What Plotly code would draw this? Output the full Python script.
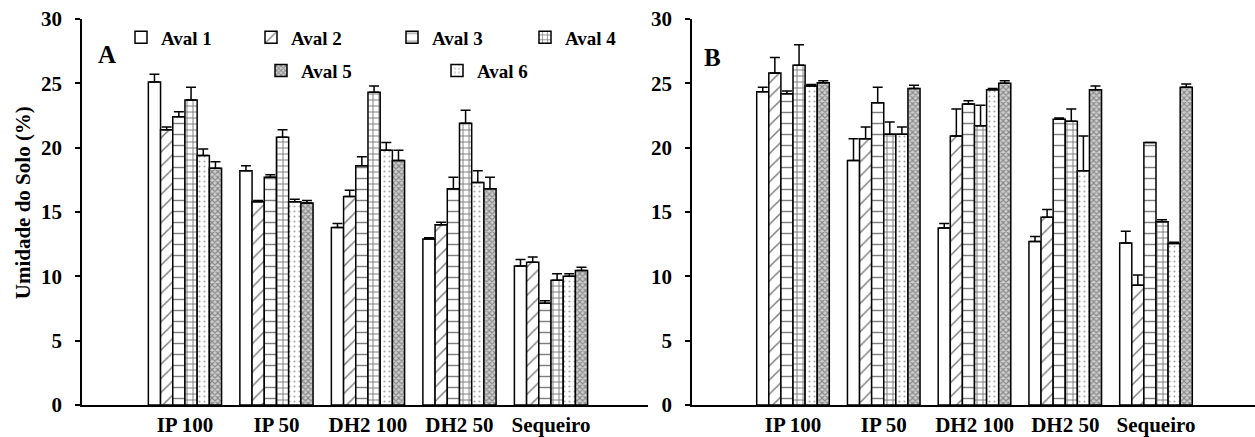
import plotly.graph_objects as go

categories = ["IP 100", "IP 50", "DH2 100", "DH2 50", "Sequeiro"]

# Panel A values (bar order as drawn: Aval1, Aval2, Aval3, Aval4, Aval6(dots), Aval5(dense))
a_aval1 = [25.1, 18.2, 13.8, 12.9, 10.8]
a_aval1_err = [0.6, 0.4, 0.3, 0.1, 0.5]
a_aval2 = [21.4, 15.8, 16.2, 14.0, 11.1]
a_aval2_err = [0.2, 0.1, 0.5, 0.2, 0.4]
a_aval3 = [22.4, 17.7, 18.6, 16.8, 7.9]
a_aval3_err = [0.4, 0.2, 0.7, 0.9, 0.2]
a_aval4 = [23.7, 20.8, 24.3, 21.9, 9.7]
a_aval4_err = [1.0, 0.6, 0.5, 1.0, 0.5]
a_aval6 = [19.4, 15.8, 19.8, 17.3, 10.0]
a_aval6_err = [0.5, 0.2, 0.6, 0.9, 0.2]
a_aval5 = [18.4, 15.7, 19.0, 16.8, 10.45]
a_aval5_err = [0.5, 0.2, 0.8, 0.9, 0.25]

# Panel B values
b_aval1 = [24.35, 19.0, 13.75, 12.7, 12.6]
b_aval1_err = [0.35, 1.7, 0.35, 0.4, 0.9]
b_aval2 = [25.8, 20.7, 20.9, 14.6, 9.3]
b_aval2_err = [1.2, 0.9, 2.1, 0.6, 0.8]
b_aval3 = [24.2, 23.5, 23.4, 22.2, 20.4]
b_aval3_err = [0.2, 1.2, 0.25, 0.1, 0.0]
b_aval4 = [26.4, 21.05, 21.7, 22.05, 14.25]
b_aval4_err = [1.6, 0.95, 1.6, 0.95, 0.15]
b_aval6 = [24.8, 21.05, 24.5, 18.2, 12.55]
b_aval6_err = [0.1, 0.55, 0.1, 2.7, 0.1]
b_aval5 = [25.05, 24.6, 25.0, 24.5, 24.7]
b_aval5_err = [0.15, 0.25, 0.2, 0.3, 0.25]

FONT = "Liberation Serif, Times New Roman, serif"

styles = {
    "Aval 1": dict(shape="", size=8, solidity=0.2, fgcolor="black", bgcolor="white"),
    "Aval 2": dict(shape="/", size=10, solidity=0.15, fgcolor="black", bgcolor="white"),
    "Aval 3": dict(shape="-", size=11, solidity=0.13, fgcolor="black", bgcolor="white"),
    "Aval 4": dict(shape="+", size=6, solidity=0.3, fgcolor="black", bgcolor="white"),
    "Aval 5": dict(shape="x", size=4, solidity=0.5, fgcolor="#444444", bgcolor="#cfcfcf"),
    "Aval 6": dict(shape=".", size=5, solidity=0.15, fgcolor="#555555", bgcolor="white"),
}
legend_ids = {"Aval 1": "legend", "Aval 2": "legend2", "Aval 3": "legend3",
              "Aval 4": "legend4", "Aval 5": "legend5", "Aval 6": "legend6"}

panelA = [("Aval 1", a_aval1, a_aval1_err), ("Aval 2", a_aval2, a_aval2_err),
          ("Aval 3", a_aval3, a_aval3_err), ("Aval 4", a_aval4, a_aval4_err),
          ("Aval 6", a_aval6, a_aval6_err), ("Aval 5", a_aval5, a_aval5_err)]
panelB = [("Aval 1", b_aval1, b_aval1_err), ("Aval 2", b_aval2, b_aval2_err),
          ("Aval 3", b_aval3, b_aval3_err), ("Aval 4", b_aval4, b_aval4_err),
          ("Aval 6", b_aval6, b_aval6_err), ("Aval 5", b_aval5, b_aval5_err)]

fig = go.Figure()
for panel, xa, ya, show in [(panelA, "x", "y", True), (panelB, "x2", "y2", False)]:
    for name, vals, errs in panel:
        fig.add_trace(go.Bar(
            x=categories, y=vals, name=name, xaxis=xa, yaxis=ya,
            legend=legend_ids[name], showlegend=show, legendgroup=name,
            marker=dict(color="white", line=dict(color="black", width=1.5),
                        pattern=styles[name]),
            error_y=dict(type="data", array=errs, arrayminus=[0] * len(errs),
                         symmetric=False, color="black", thickness=1.5, width=5),
        ))

PW = 1173.0
PT, PB = 19, 22
PH = 437 - PT - PB


def px_x(p):
    return (p - 82) / PW


def px_y(p):
    return (437 - PB - p) / PH


axis_common = dict(showline=True, linecolor="black", linewidth=1.5, showgrid=False,
                   zeroline=False)
yax = dict(axis_common, range=[0, 30], tickvals=[0, 5, 10, 15, 20, 25, 30],
           ticks="outside", ticklen=5, tickwidth=1.5, tickcolor="black",
           ticklabelstandoff=9,
           tickfont=dict(family=FONT, size=21, color="black", weight="bold"))
xax = dict(axis_common, ticks="", type="category",
           tickfont=dict(family=FONT, size=21, color="black", weight="bold"))

legend_pos = {"legend": (163, 38), "legend2": (293, 38), "legend3": (434, 38),
              "legend4": (567, 38), "legend5": (303, 72), "legend6": (479, 72)}
leg_layout = {}
for lid, (tx, ty) in legend_pos.items():
    leg_layout[lid] = dict(x=px_x(tx - 42), y=px_y(ty), xanchor="left", yanchor="middle",
                           bgcolor="rgba(0,0,0,0)", borderwidth=0,
                           font=dict(family=FONT, size=19, color="black", weight="bold"))

fig.update_layout(
    width=1255, height=437,
    margin=dict(l=82, r=0, t=PT, b=PB),
    paper_bgcolor="white", plot_bgcolor="white",
    barmode="group", bargap=0.2, bargroupgap=0,
    xaxis=dict(xax, domain=[0, px_x(648)], range=[-1.125, 5.06], anchor="y"),
    yaxis=dict(yax, anchor="x"),
    xaxis2=dict(xax, domain=[px_x(692), 1], range=[-1.113, 5.091], anchor="y2"),
    yaxis2=dict(yax, anchor="x2"),
    annotations=[
        dict(text="A", x=px_x(107), y=px_y(55), xref="paper", yref="paper",
             xanchor="center", yanchor="middle", showarrow=False,
             font=dict(family=FONT, size=25, color="black", weight="bold")),
        dict(text="B", x=px_x(712), y=px_y(59), xref="paper", yref="paper",
             xanchor="center", yanchor="middle", showarrow=False,
             font=dict(family=FONT, size=25, color="black", weight="bold")),
        dict(text="Umidade do Solo (%)", x=px_x(22.5), y=px_y(207.5), xref="paper",
             yref="paper", xanchor="center", yanchor="middle", showarrow=False,
             textangle=-90,
             font=dict(family=FONT, size=21, color="black", weight="bold")),
    ],
    **leg_layout,
)

fig.write_html("out.html")
